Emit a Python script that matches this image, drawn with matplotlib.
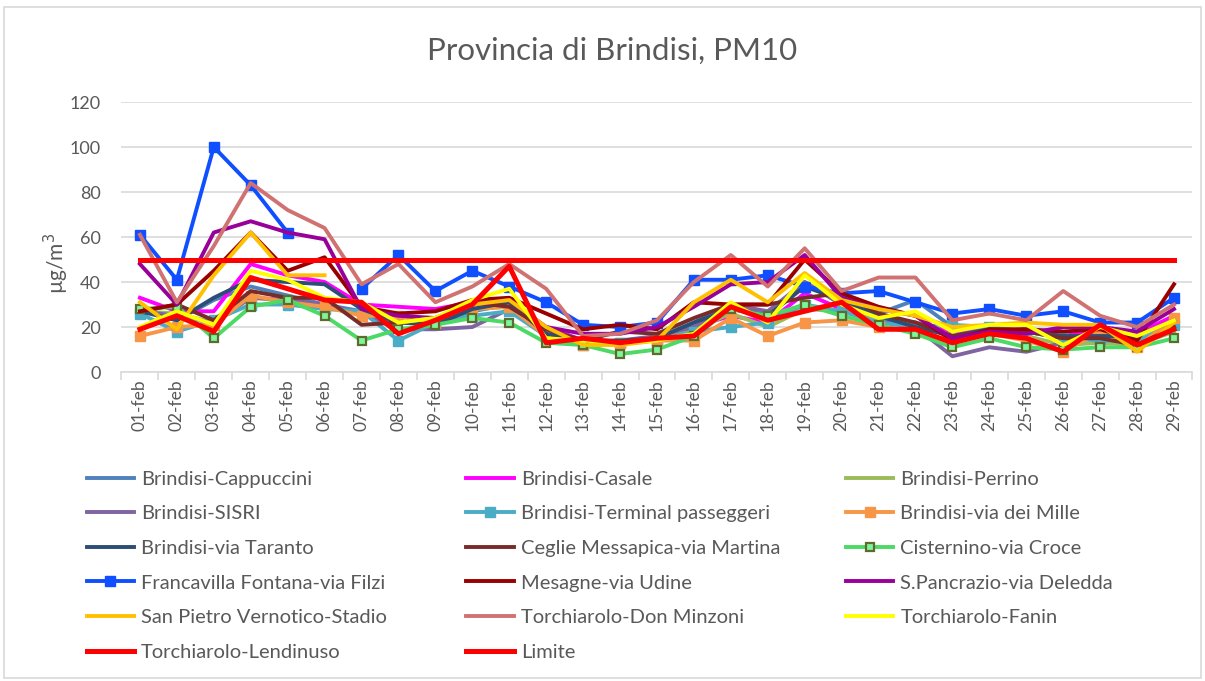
import numpy as np
import matplotlib
matplotlib.use("Agg")
import matplotlib.pyplot as plt
from matplotlib.patches import Rectangle

plt.rcParams['font.family'] = ['Lato', 'DejaVu Sans']

# giorni di febbraio
days = ["%02d-feb" % d for d in range(1, 30)]

nan = np.nan

cappuccini = [28, 23, 32, 38, 34, 30, 27, 22, 22, 27, 30, 20, 14, 13, 15, 22, 30, 25, 40, 30,
              26, 32, 20, 19, 18, 15, 16, 16, 24]
casale = [33, 27, 27, 48, 43, 40, 30, 29, 28, 31, 30, 20, 14, 13, 15, 20, 25, 22, 35, 28,
          24, 22, 18, 18, 19, 17, 17, 17, 25]
perrino = [27, 26, 22, 33, 32, 29, 26, 25, 23, 28, 29, 18, 13, 13, 14, 19, 26, 20, 28, 27,
           24, 22, 16, 17, 16, 12, 13, 12, 18]
sisri = [27, 25, 22, 33, 32, 30, 26, 19, 19, 20, 28, 16, 13, 14, 16, 20, 30, 27, 40, 30,
         24, 20, 7, 11, 9, 13, 18, 13, 22]
terminal = [26, 18, 23, 30, 30, 28, 27, 14, 22, 25, 27, 16, 12, 13, 14, 18, 20, 22, 30, 27,
            22, 20, 21, 20, 18, 15, 14, 14, 21]
via_mille = [16, 20, 21, 34, 31, 29, 25, 25, 22, 28, 29, 16, 12, 13, 14, 14, 24, 16, 22, 23,
             20, 18, 14, 17, 14, 9, 18, 11, 24]
via_taranto = [27, 23, 33, 41, 40, 39, 28, 22, 21, 28, 31, 17, 14, 14, 15, 22, 28, 25, 38, 32,
               25, 20, 16, 19, 18, 16, 16, 16, 23]
ceglie = [27, 30, 23, 36, 33, 33, 21, 22, 24, 31, 29, 19, 14, 18, 17, 24, 30, 30, 33, 35,
          26, 22, 16, 18, 18, 15, 15, 12, 20]
cisternino = [28, 29, 15, 29, 32, 25, 14, 19, 21, 24, 22, 13, 12, 8, 10, 16, 28, 25, 30, 25,
              21, 17, 11, 15, 11, 10, 11, 11, 15]
francavilla = [61, 41, 100, 83, 62, nan, 37, 52, 36, 45, 38, 31, 21, 20, 22, 41, 41, 43, 38, 35,
               36, 31, 26, 28, 25, 27, 22, 22, 33]
mesagne = [27, 30, 45, 62, 45, 51, 29, 26, 27, 32, 33, 26, 19, 21, 19, 31, 30, 30, 50, 35,
           29, 25, 14, 19, 19, 18, 19, 14, 39]
pancrazio = [48, 30, 62, 67, 62, 59, 28, 25, 24, 30, 32, 20, 17, 17, 20, 29, 39, 40, 52, 33,
             28, 25, 15, 18, 17, 20, 20, 18, 28]
san_pietro = [31, 19, 43, 62, 43, 43, nan, 22, 24, 30, 32, 20, 12, 12, 14, 31, 41, 31, 44, 32,
              28, 25, 20, 21, 22, 21, 21, 9, 22]
don_minzoni = [61, 31, 56, 84, 72, 64, 39, 48, 31, 38, 48, 37, 16, 17, 23, 40, 52, 38, 55, 36,
               42, 42, 23, 26, 23, 36, 25, 20, 30]
fanin = [20, 27, 21, 45, 41, 33, 31, 22, 24, 32, 37, 15, 14, 13, 14, 17, 31, 22, 43, 30,
         24, 27, 18, 21, 21, 12, 20, 16, 23]
lendinuso = [19, 25, 18, 42, 37, 32, 31, 17, 23, 30, 47, 13, 15, 13, 15, 16, 29, 23, 27, 31,
             19, 19, 13, 17, 15, 9, 21, 12, 19]
limite = [50] * 29

x = np.arange(len(days))

fig = plt.figure(figsize=(12.05, 6.81), dpi=100)
fig.patches.append(Rectangle((0.003, 0.004), 0.994, 0.985, transform=fig.transFigure,
                             fill=False, edgecolor="#D9D9D9", linewidth=1.2))
ax = fig.add_axes([0.1008, 0.4537, 0.8888, 0.3965])

lw = 2.8
series = [
    ("Brindisi-Cappuccini", cappuccini, dict(color="#4F81BD")),
    ("Brindisi-Casale", casale, dict(color="#FF00FF")),
    ("Brindisi-Perrino", perrino, dict(color="#9BBB59")),
    ("Brindisi-SISRI", sisri, dict(color="#8064A2")),
    ("Brindisi-Terminal passeggeri", terminal, dict(color="#4BACC6", marker="s", markersize=7)),
    ("Brindisi-via dei Mille", via_mille, dict(color="#F79646", marker="s", markersize=7.5)),
    ("Brindisi-via Taranto", via_taranto, dict(color="#2C4D75")),
    ("Ceglie Messapica-via Martina", ceglie, dict(color="#772C2A")),
    ("Cisternino-via Croce", cisternino, dict(color="#4CD964", marker="s", markersize=6,
                                              markerfacecolor="#7CF59C", markeredgecolor="#5F6B2C",
                                              markeredgewidth=1.6)),
    ("Francavilla Fontana-via Filzi", francavilla, dict(color="#0F4FFF", marker="s", markersize=7)),
    ("Mesagne-via Udine", mesagne, dict(color="#990000")),
    ("S.Pancrazio-via Deledda", pancrazio, dict(color="#990099")),
    ("San Pietro Vernotico-Stadio", san_pietro, dict(color="#FFC000")),
    ("Torchiarolo-Don Minzoni", don_minzoni, dict(color="#D07272")),
    ("Torchiarolo-Fanin", fanin, dict(color="#FFFF00")),
    ("Torchiarolo-Lendinuso", lendinuso, dict(color="#FF0000", linewidth=3.6)),
    ("Limite", limite, dict(color="#FF0000", linewidth=3.6)),
]

handles = []
for name, vals, style in series:
    kw = dict(linewidth=lw, solid_joinstyle="round")
    kw.update(style)
    h, = ax.plot(x, vals, label=name, **kw)
    handles.append(h)

ax.set_xlim(-0.5, len(days) - 0.5)
ax.set_ylim(0, 120)
ax.set_yticks(range(0, 121, 20))
ax.yaxis.grid(True, color="#D9D9D9", linewidth=1.2)
ax.set_axisbelow(True)
for s in ["top", "right", "left"]:
    ax.spines[s].set_visible(False)
ax.spines["bottom"].set_color("#D9D9D9")
ax.spines["bottom"].set_linewidth(1.2)
ax.tick_params(axis="y", length=0, labelsize=13, labelcolor="#595959", pad=15)
ax.set_xticks(x)
ax.set_xticklabels(days, rotation=90)
ax.tick_params(axis="x", which="major", length=0, labelsize=12.5, labelcolor="#595959", pad=5)
ax.set_xticks(np.arange(-0.5, len(days)), minor=True)
ax.tick_params(axis="x", which="minor", length=6, color="#D9D9D9", width=1.2)

ax.set_ylabel("µg/m$^3$", fontsize=15, color="#595959")
ax.yaxis.set_label_coords(-0.047, 0.404)
fig.text(0.508, 0.925, "Provincia di Brindisi, PM10", ha="center", va="center",
         fontsize=22.5, color="#595959")

# legenda su tre colonne, ordinata per righe
col_x = [0.072, 0.387, 0.702]
for c in range(3):
    idx = list(range(c, len(handles), 3))
    fig.legend([handles[i] for i in idx], [series[i][0] for i in idx],
               loc="upper left", bbox_to_anchor=(col_x[c], 0.309), ncol=1, frameon=False,
               fontsize=14.5, labelcolor="#595959", handlelength=2.35, handletextpad=0.35,
               labelspacing=0.87, borderaxespad=0, borderpad=0)

fig.savefig("out.png", dpi=100)
